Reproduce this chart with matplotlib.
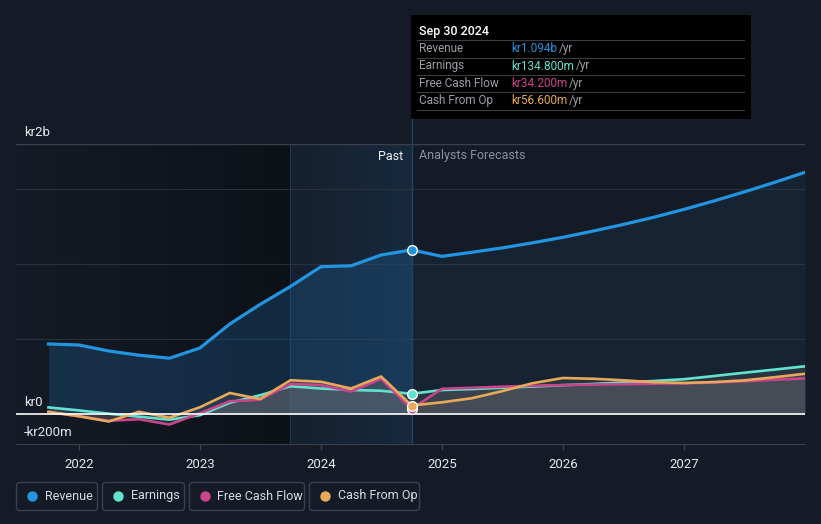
import matplotlib
matplotlib.use('Agg')
import matplotlib.pyplot as plt
import numpy as np
import pandas as pd
from matplotlib.patches import Rectangle, FancyBboxPatch
from matplotlib.lines import Line2D

plt.rcParams['font.family'] = ['Roboto', 'DejaVu Sans']

# values in kr millions
past_dates = ["2021-09-30", "2021-12-31", "2022-03-31", "2022-06-30", "2022-09-30",
              "2022-12-31", "2023-03-31", "2023-06-30", "2023-09-30", "2023-12-31",
              "2024-03-31", "2024-06-30", "2024-09-30"]
forecast_dates = ["2024-12-31", "2025-03-31", "2025-06-30", "2025-09-30", "2025-12-31",
                  "2026-03-31", "2026-06-30", "2026-09-30", "2026-12-31", "2027-03-31",
                  "2027-06-30", "2027-09-30", "2027-12-31"]

revenue_past = [467, 460, 420, 392, 372, 440, 600, 730, 850, 982, 988, 1060, 1094]
earnings_past = [44, 24, 2, -18, -38, -8, 75, 125, 185, 170, 160, 155, 134.8]
fcf_past = [12, -15, -45, -35, -70, 5, 85, 95, 200, 193, 150, 235, 34.2]
cfo_past = [15, -15, -50, 15, -25, 45, 140, 100, 225, 215, 170, 250, 56.6]

revenue_fc = [1051, 1078, 1107, 1141, 1178, 1219, 1263, 1311, 1364, 1420, 1480, 1544, 1611]
earnings_fc = [160, 166, 175, 183, 192, 200, 210, 220, 232, 253, 275, 296, 318]
fcf_fc = [168, 175, 182, 188, 193, 196, 199, 202, 204, 210, 218, 228, 238]
cfo_fc = [78, 105, 152, 205, 240, 235, 225, 212, 207, 213, 224, 245, 268]

year_ticks = [2022, 2023, 2024, 2025, 2026, 2027]
legend_names = ["Revenue", "Earnings", "Free Cash Flow", "Cash From Op"]
tooltip_values = ["kr1.094b", "kr134.800m", "kr34.200m", "kr56.600m"]

BG = '#151b26'
C_REV = '#2394df'
C_EARN = '#62e3cf'
C_FCF = '#c8458a'
C_CFO = '#e8a95a'
colors = [C_REV, C_EARN, C_FCF, C_CFO]

W, H = 821, 524


def to_year(dates):
    d = pd.to_datetime(dates)
    days = np.where(d.is_leap_year, 366, 365)
    return np.asarray(d.year + (d.dayofyear - 1) / days, dtype=float)


def px(x, y):
    return x / 100, (H - y) / 100


xp = to_year(past_dates)
xf = to_year(forecast_dates)
x_all = np.concatenate([xp, xf])
rev = np.array(revenue_past + revenue_fc, dtype=float)
earn = np.array(earnings_past + earnings_fc, dtype=float)
fcf = np.array(fcf_past + fcf_fc, dtype=float)
cfo = np.array(cfo_past + cfo_fc, dtype=float)
x_now = xp[-1]
x_split = xp[-5]  # start of the highlighted last year

fig = plt.figure(figsize=(W / 100, H / 100), dpi=100, facecolor=BG)
ax = fig.add_axes([16 / W, 1 - 444 / H, (805 - 16) / W, 300 / H])
ax.set_facecolor(BG)

x0, x1 = 2021.477, 2027.998
y0, y1 = -200, 1800

# dark gradient over the older past
grad = np.zeros((1, 200, 4))
grad[..., 3] = np.linspace(0.0, 0.38, 200)
ax.imshow(grad, extent=(x0, x_split, y0, y1), aspect='auto', zorder=0.5, interpolation='bilinear')
# blue highlight over the last year
blue = np.zeros((1, 200, 4))
blue[..., :3] = matplotlib.colors.to_rgb('#1f5e92')
blue[..., 3] = np.linspace(0.07, 0.22, 200)
ax.imshow(blue, extent=(x_split, x_now, y0, y1), aspect='auto', zorder=0.5, interpolation='bilinear')

ax.axvline(x_split, color='#1c3a56', lw=0.8, zorder=0.6)

for g in [500, 1000, 1500]:
    ax.axhline(g, color='#2b313c', lw=0.8, zorder=0.7)
ax.axhline(1800, color='#3b414c', lw=1.0, zorder=0.7)

# revenue area
npast = len(xp)
ax.fill_between(x_all[:npast], rev[:npast], 0, color='#1e5b8e', alpha=0.35, lw=0, zorder=1)
ax.fill_between(x_all[npast - 1:], rev[npast - 1:], 0, color='#1e5b8e', alpha=0.13, lw=0, zorder=1)

# small series areas
for s in [earn, fcf, cfo]:
    ax.fill_between(x_all, s, 0, color='#7a7a7e', alpha=0.2, lw=0, zorder=1.2)

ax.plot(x_all, earn, color=C_EARN, lw=1.9, zorder=2, solid_joinstyle='round')
ax.plot(x_all, fcf, color=C_FCF, lw=1.9, zorder=2.1, solid_joinstyle='round')
ax.plot(x_all, cfo, color=C_CFO, lw=1.9, zorder=2.2, solid_joinstyle='round')
ax.plot(x_all, rev, color=C_REV, lw=2.3, zorder=3, solid_joinstyle='round')

ax.axhline(0, color='white', lw=1.2, zorder=2.5)

ax.plot([x_now, x_now], [y0, y1], color='#24435f', lw=1.0, zorder=2.6, clip_on=False)

for val, c in [(fcf[npast - 1], C_FCF), (cfo[npast - 1], C_CFO), (earn[npast - 1], C_EARN), (rev[npast - 1], C_REV)]:
    ax.plot(x_now, val, 'o', ms=7, mfc=c, mec='white', mew=1.0, zorder=4)

ax.set_xlim(x0, x1)
ax.set_ylim(y0, y1)
ax.set_yticks([])
ax.set_xticks(year_ticks)
ax.set_xticklabels([str(y) for y in year_ticks])
ax.tick_params(axis='x', colors='#3b414c', length=4, width=1, labelcolor='#e4e6ea', labelsize=9.5, pad=6)
for side in ['top', 'left', 'right']:
    ax.spines[side].set_visible(False)
ax.spines['bottom'].set_color('#3b414c')

tr = fig.dpi_scale_trans

# y labels
for label, yy in [("kr2b", 132), ("kr0", 402), ("-kr200m", 432)]:
    fig.text(*px(24, yy), label, transform=tr, color='#e4e6ea', fontsize=9.5, va='center', ha='left')

fig.text(*px(403, 156), "Past", transform=tr, color='#f0f2f4', fontsize=9, va='center', ha='right')
fig.text(*px(419, 156), "Analysts Forecasts", transform=tr, color='#8b929c', fontsize=9, va='center', ha='left')

# line from the current point up to the tooltip
fig.add_artist(Line2D([411.5 / 100, 411.5 / 100], [(H - 144) / 100, (H - 119) / 100], transform=tr,
                      color='#24435f', lw=1.0))

# tooltip
fig.add_artist(Rectangle(px(411, 119), 340 / 100, 104 / 100, transform=tr, facecolor='black', edgecolor='none'))
fig.text(*px(419, 31), "Sep 30 2024", transform=tr, color='white', fontsize=9, fontweight='medium', va='center')
for yy in [40, 57.5, 75, 92.5, 110]:
    fig.add_artist(Line2D([417 / 100, 744 / 100], [(H - yy) / 100] * 2, transform=tr, color='#3a3d42', lw=0.8))

renderer = fig.canvas.get_renderer()
for i, (name, val, c) in enumerate(zip(legend_names, tooltip_values, colors)):
    yy = 48.5 + i * 17.5
    fig.text(*px(419, yy), name, transform=tr, color='#9a9ea5', fontsize=8.5, va='center')
    t = fig.text(*px(511, yy), val, transform=tr, color=c, fontsize=8.5, va='center')
    bb = t.get_window_extent(renderer=renderer)
    fig.text(bb.x1 / 100 + 0.02, (H - yy) / 100, "/yr", transform=tr, color='#9a9ea5', fontsize=8.5,
             va='center')

# legend boxes
boxes = [(16.5, 97.5), (102.5, 184.5), (189.5, 304.5), (309.5, 419.5)]
for (l, r), name, c in zip(boxes, legend_names, colors):
    fig.add_artist(FancyBboxPatch(px(l, 510.5), (r - l) / 100, 28 / 100, transform=tr,
                                  boxstyle="round,pad=0,rounding_size=0.03",
                                  facecolor='none', edgecolor='#3b414c', lw=1.0))
    fig.add_artist(Line2D([(l + 15.5) / 100], [(H - 496) / 100], transform=tr, marker='o', ms=6.5,
                          color=c, lw=0))
    fig.text(*px(l + 28, 496), name, transform=tr, color='#d8dbe0', fontsize=9, va='center')

fig.savefig('out.png', dpi=100, facecolor=BG)
